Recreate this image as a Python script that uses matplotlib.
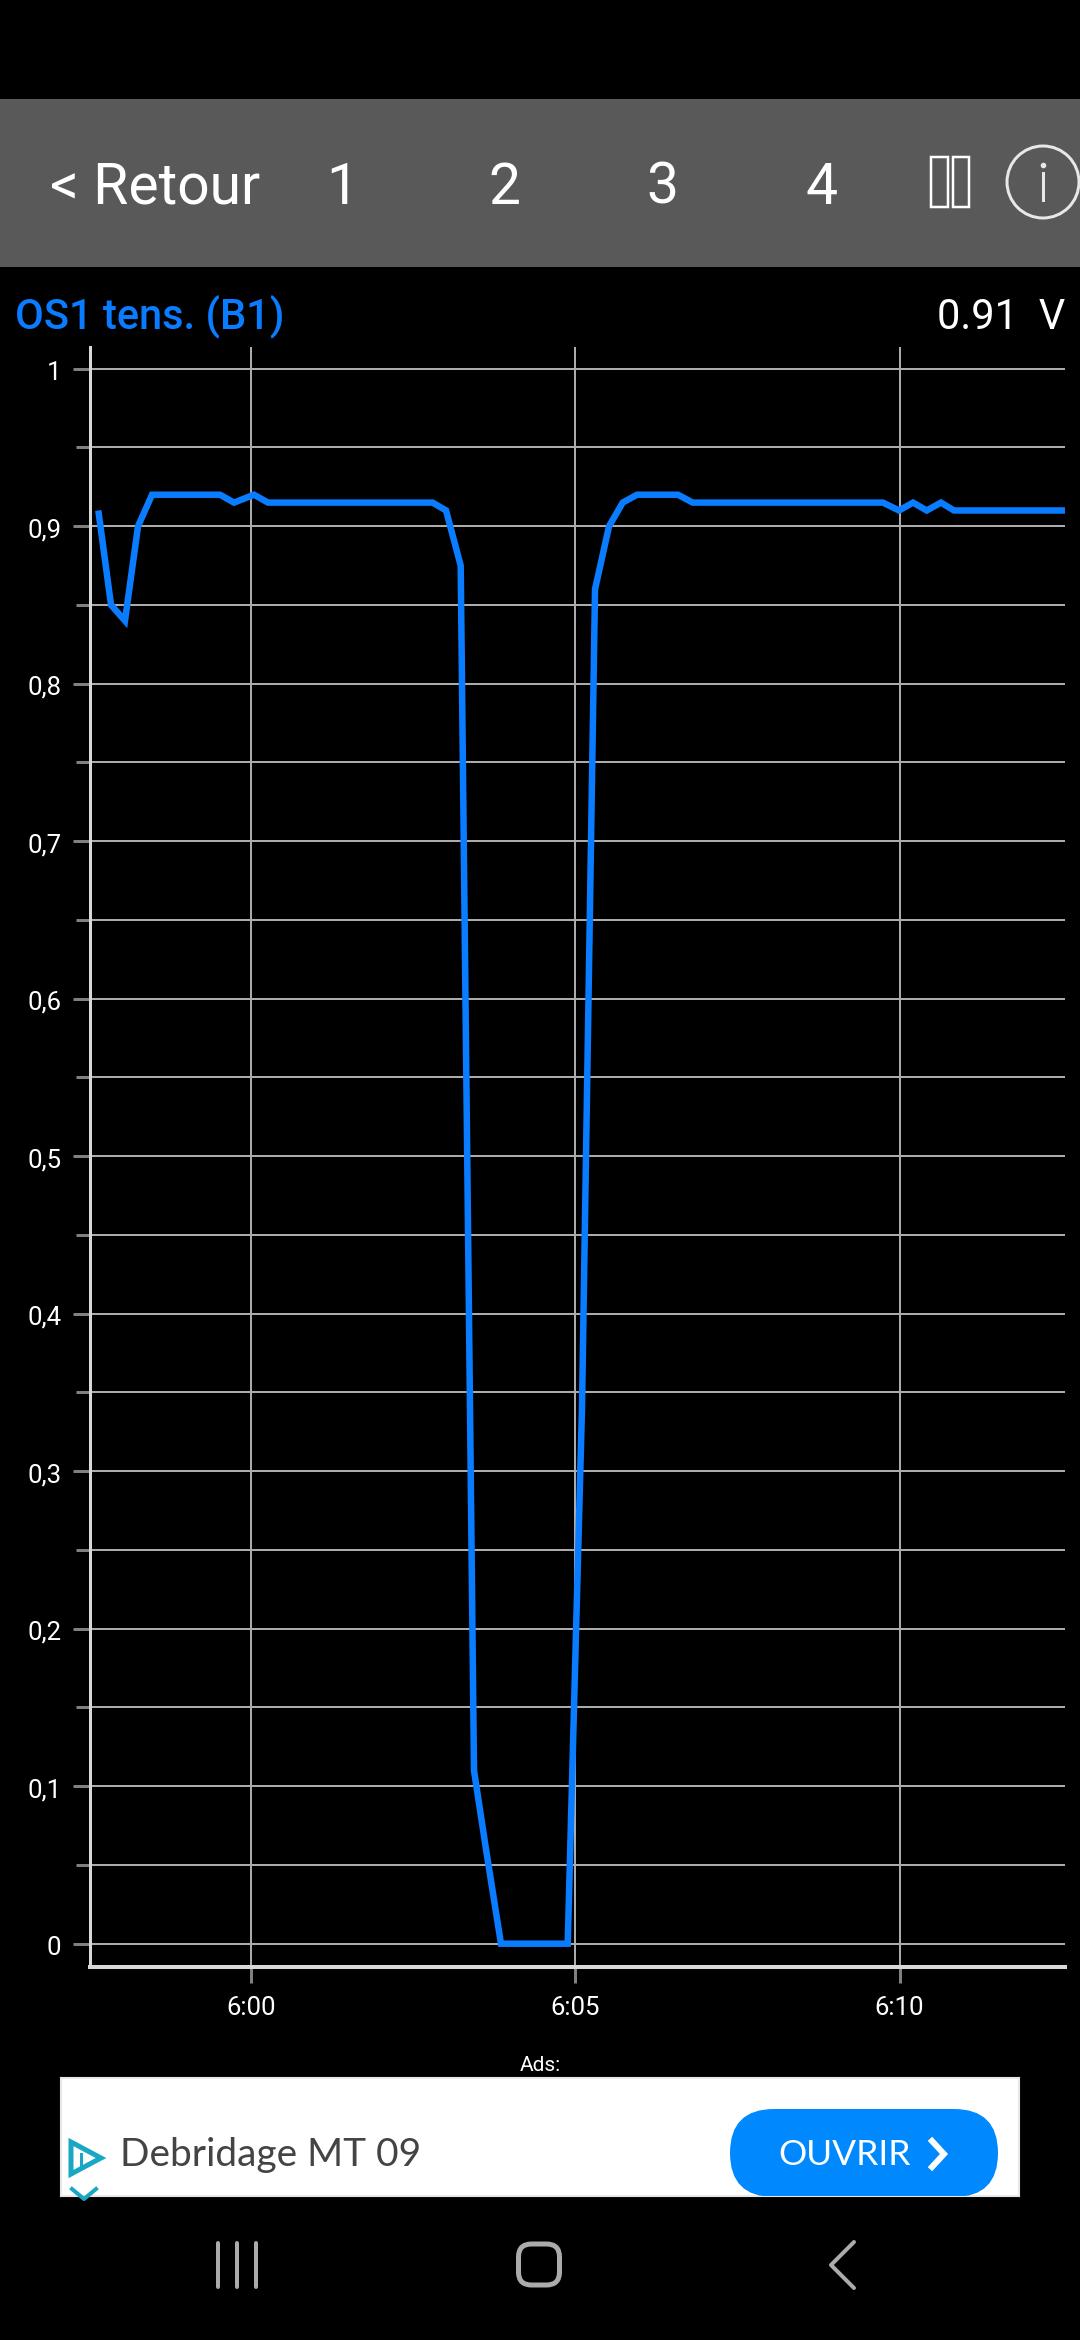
import matplotlib
matplotlib.use("Agg")
import matplotlib.pyplot as plt
from matplotlib.patches import Rectangle, Circle, FancyBboxPatch, Polygon
from matplotlib.ticker import FixedLocator
from matplotlib.transforms import Affine2D

# --- data: minutes after 6:00 and sensor voltage ---
minutes = [-2.354, -2.158, -1.943, -1.742, -1.526, -1.326, -1.110, -0.894, -0.678, -0.478,
           -0.262, 0.046, 0.262, 0.478, 0.694, 0.894, 1.110, 1.326, 1.526, 1.742,
           1.958, 2.158, 2.375, 2.590, 2.800, 3.007, 3.233, 3.438, 3.623, 3.854,
           4.066, 4.271, 4.479, 4.687, 4.883, 5.103, 5.304, 5.520, 5.731, 5.951, 6.167,
           6.378, 6.583, 6.810, 7.021, 7.231, 7.447, 7.663, 7.871, 8.079, 8.295,
           8.506, 8.717, 8.927, 9.143, 9.352, 9.559, 9.744, 9.991, 10.207, 10.418,
           10.638, 10.839, 11.055, 11.270, 11.479, 11.687, 11.903, 12.118, 12.334, 12.550]
volts = [0.91, 0.85, 0.84, 0.90, 0.92, 0.92, 0.92, 0.92, 0.92, 0.92,
         0.915, 0.92, 0.915, 0.915, 0.915, 0.915, 0.915, 0.915, 0.915, 0.915,
         0.915, 0.915, 0.915, 0.915, 0.915, 0.91, 0.875, 0.11, 0.06, 0.0,
         0.0, 0.0, 0.0, 0.0, 0.0, 0.34, 0.86, 0.90, 0.915, 0.92, 0.92,
         0.92, 0.92, 0.915, 0.915, 0.915, 0.915, 0.915, 0.915, 0.915, 0.915,
         0.915, 0.915, 0.915, 0.915, 0.915, 0.915, 0.915, 0.91, 0.915, 0.91,
         0.915, 0.91, 0.91, 0.91, 0.91, 0.91, 0.91, 0.91, 0.91, 0.91]
x_tick_pos = [0, 5, 10]
x_tick_labels = ["6:00", "6:05", "6:10"]
y_major = [0, 0.1, 0.2, 0.3, 0.4, 0.5, 0.6, 0.7, 0.8, 0.9, 1.0]
y_labels = ["0", "0,1", "0,2", "0,3", "0,4", "0,5", "0,6", "0,7", "0,8", "0,9", "1"]
y_minor = [0.05, 0.15, 0.25, 0.35, 0.45, 0.55, 0.65, 0.75, 0.85, 0.95]
tabs = ["1", "2", "3", "4"]

W, H = 1080, 2340
PX = 72 / 100  # points per pixel at 100 dpi
plt.rcParams['font.family'] = ['Roboto', 'DejaVu Sans']
fig = plt.figure(figsize=(W / 100, H / 100), dpi=100, facecolor='black')

# --- chart ---
L, R, T, B = 89.5, 1065, 347, 1967
ax = fig.add_axes([L / W, 1 - B / H, (R - L) / W, (B - T) / H], facecolor='black')
ax.set_xlim(-2.49, 12.55)
ax.set_ylim(-0.0148, 1.0138)
ax.xaxis.set_major_locator(FixedLocator(x_tick_pos))
ax.set_xticklabels(x_tick_labels)
ax.yaxis.set_major_locator(FixedLocator(y_major))
ax.set_yticklabels(y_labels)
ax.yaxis.set_minor_locator(FixedLocator(y_minor))
for which in ('major', 'minor'):
    ax.grid(True, which=which, axis='y', color='#ababab', lw=2 * PX)
ax.grid(True, which='major', axis='x', color='#ababab', lw=2 * PX)
ax.set_axisbelow(True)
ax.tick_params(axis='y', which='major', length=17 * PX, width=3 * PX, color='#808080',
               labelcolor='white', labelsize=18.5, pad=8)
ax.tick_params(axis='y', which='minor', length=14 * PX, width=3 * PX, color='#808080')
ax.tick_params(axis='x', which='major', length=16 * PX, width=3 * PX, color='#808080',
               labelcolor='white', labelsize=18.5, pad=9.5)
for lab in ax.get_yticklabels():
    lab.set_transform(lab.get_transform() + Affine2D().translate(0, -1.5))
for s in ('top', 'right'):
    ax.spines[s].set_visible(False)
ax.spines['left'].set_color('#d8d8d8')
ax.spines['left'].set_linewidth(3 * PX)
ax.spines['bottom'].set_color('#d8d8d8')
ax.spines['bottom'].set_linewidth(4 * PX)
ax.plot(minutes, volts, color='#0a7cff', lw=6.5 * PX, solid_joinstyle='miter',
        solid_capstyle='butt', clip_on=False, zorder=5)

# --- screen furniture, in pixel coordinates ---
ui = fig.add_axes([0, 0, 1, 1], facecolor='none')
ui.set_xlim(0, W)
ui.set_ylim(H, 0)
ui.axis('off')

ui.add_patch(Rectangle((0, 99), W, 168, color='#595959', lw=0))
ui.text(50, 204, "< Retour", color='white', fontsize=41, va='baseline', ha='left')
for lab, cx in zip(tabs, [342, 504, 662.5, 821.6]):
    ui.text(cx, 204, lab, color='white', fontsize=41, va='baseline', ha='center')
ui.add_patch(Rectangle((931, 157), 17, 50, fc='none', ec='white', lw=2.5 * PX))
ui.add_patch(Rectangle((953, 157), 16, 50, fc='none', ec='white', lw=2.5 * PX))
ui.add_patch(Circle((1043, 182), 36, fc='none', ec='#e8e8e8', lw=3 * PX))
ui.plot([1043, 1043], [173, 200], color='#e8e8e8', lw=3 * PX)
ui.plot([1043], [165], 'o', color='#e8e8e8', ms=3)

ui.text(15, 328, "OS1 tens. (B1)", color='#0a7cff', fontsize=30, va='baseline', ha='left', fontweight='medium')
ui.text(1065, 329, "0.91  V", color='white', fontsize=30, va='baseline', ha='right')

ui.text(540, 2071, "Ads:", color='white', fontsize=15, va='baseline', ha='center')
ui.add_patch(Rectangle((60.5, 2078), 958.5, 118, fc='white', ec='#e8e8e8', lw=1.5))
ui.text(120, 2166, "Debridage MT 09", color='#444444', fontsize=28, va='baseline', ha='left', family='Lato')
clip = Rectangle((60.5, 2078), 958.5, 118, transform=ui.transData)
pill = FancyBboxPatch((760, 2139), 208, 28, boxstyle="round,pad=30,rounding_size=44", fc='#0088ff', ec='#0088ff',
                      lw=0)
ui.add_patch(pill)
pill.set_clip_path(clip)
ui.text(778, 2165, "OUVRIR", color='white', fontsize=25.5, va='baseline', ha='left', family='Lato')
ui.plot([932, 944, 932], [2141, 2154, 2167], color='white', lw=6 * PX, solid_joinstyle='miter')
ui.add_patch(Polygon([(71, 2142), (101, 2158), (71, 2174)], closed=True, fc='none', ec='#19a8c4', lw=5 * PX))
ui.plot([81, 81], [2154, 2167], color='#19a8c4', lw=3 * PX)
ui.plot([72, 84, 96], [2189, 2199, 2189], color='#19a8c4', lw=4 * PX, clip_path=clip)

for x in (217.6, 237, 256):
    ui.plot([x, x], [2243, 2287], color='#ababab', lw=4 * PX, solid_capstyle='round')
home = FancyBboxPatch((518.5, 2244), 41, 41, boxstyle="round,pad=0,rounding_size=13", fc='none', ec='#ababab', lw=5 * PX)
ui.add_patch(home)
ui.plot([854, 831, 854], [2242, 2265, 2288], color='#ababab', lw=4 * PX, solid_capstyle='round')

fig.savefig("out.png", dpi=100, facecolor='black')
